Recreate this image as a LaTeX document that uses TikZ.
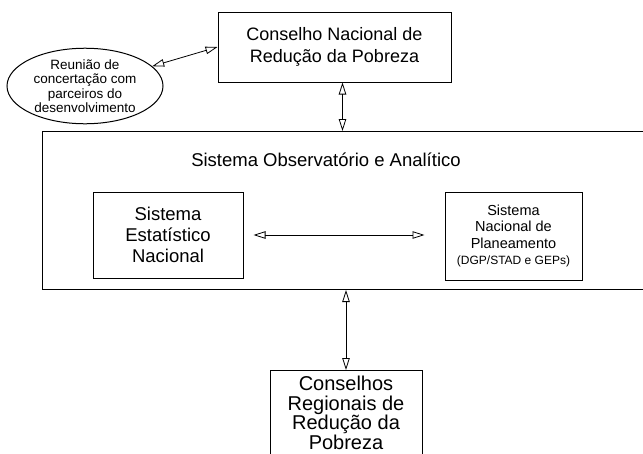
\documentclass[tikz,border=0pt]{standalone}
\usepackage{fontspec}
\setmainfont{Liberation Sans}
\usetikzlibrary{arrows.meta,shapes.geometric}
\tikzset{
  box/.style={draw, line width=1pt, align=center, inner sep=0pt},
  dbl/.style={{Triangle[open,length=12pt,width=7.5pt]}-{Triangle[open,length=12pt,width=7.5pt]}, line width=0.8pt}
}
\begin{document}
\begin{tikzpicture}[x=1pt,y=-1pt]
\useasboundingbox (0,0) rectangle (643,453);
\clip (0,0) rectangle (643,453);
\node[box, minimum width=233pt, minimum height=70pt, font=\fontsize{18}{22}\selectfont] (cnrp) at (334.5,47) {Conselho Nacional de\\Redução da Pobreza};
\node[draw, ellipse, line width=1pt, inner sep=0pt, minimum width=156pt, minimum height=68pt, align=center, font=\fontsize{13.5}{14.5}\selectfont] (reun) at (85,86) {Reunião de\\concertação com\\parceiros do\\desenvolvimento};
\node[draw, line width=1pt, anchor=north west, minimum width=640pt, minimum height=158pt, inner sep=0pt] (soa) at (42,131) {};
\node[font=\fontsize{18.5}{22}\selectfont] (soat) at (326,160) {Sistema Observatório e Analítico};
\node[box, minimum width=150pt, minimum height=86pt, font=\fontsize{18.5}{21}\selectfont] (sen) at (168,235) {Sistema\\Estatístico\\Nacional};
\node[box, minimum width=137pt, minimum height=88pt, font=\fontsize{14.5}{16.5}\selectfont] (snp) at (513.5,236) {Sistema\\Nacional de\\Planeamento\\{\fontsize{12}{16.5}\selectfont(DGP/STAD e GEPs)}};
\node[box, minimum width=152pt, anchor=north, font=\fontsize{20}{19.5}\selectfont] (crp) at (346,370) {\rule{0pt}{20pt}Conselhos\\Regionais de\\Redução da\\Pobreza\rule[-25pt]{0pt}{25pt}};
% ligacoes
\draw[dbl] (reun) -- (cnrp.west);
\draw[dbl] ([xshift=8pt]cnrp.south) -- ([xshift=8pt]cnrp.south |- soa.north);
\draw[dbl, shorten <=10pt, shorten >=20pt] (sen.east) -- (sen.east -| snp.west);
\draw[dbl] (crp.north) -- (crp.north |- soa.south);
\end{tikzpicture}
\end{document}
